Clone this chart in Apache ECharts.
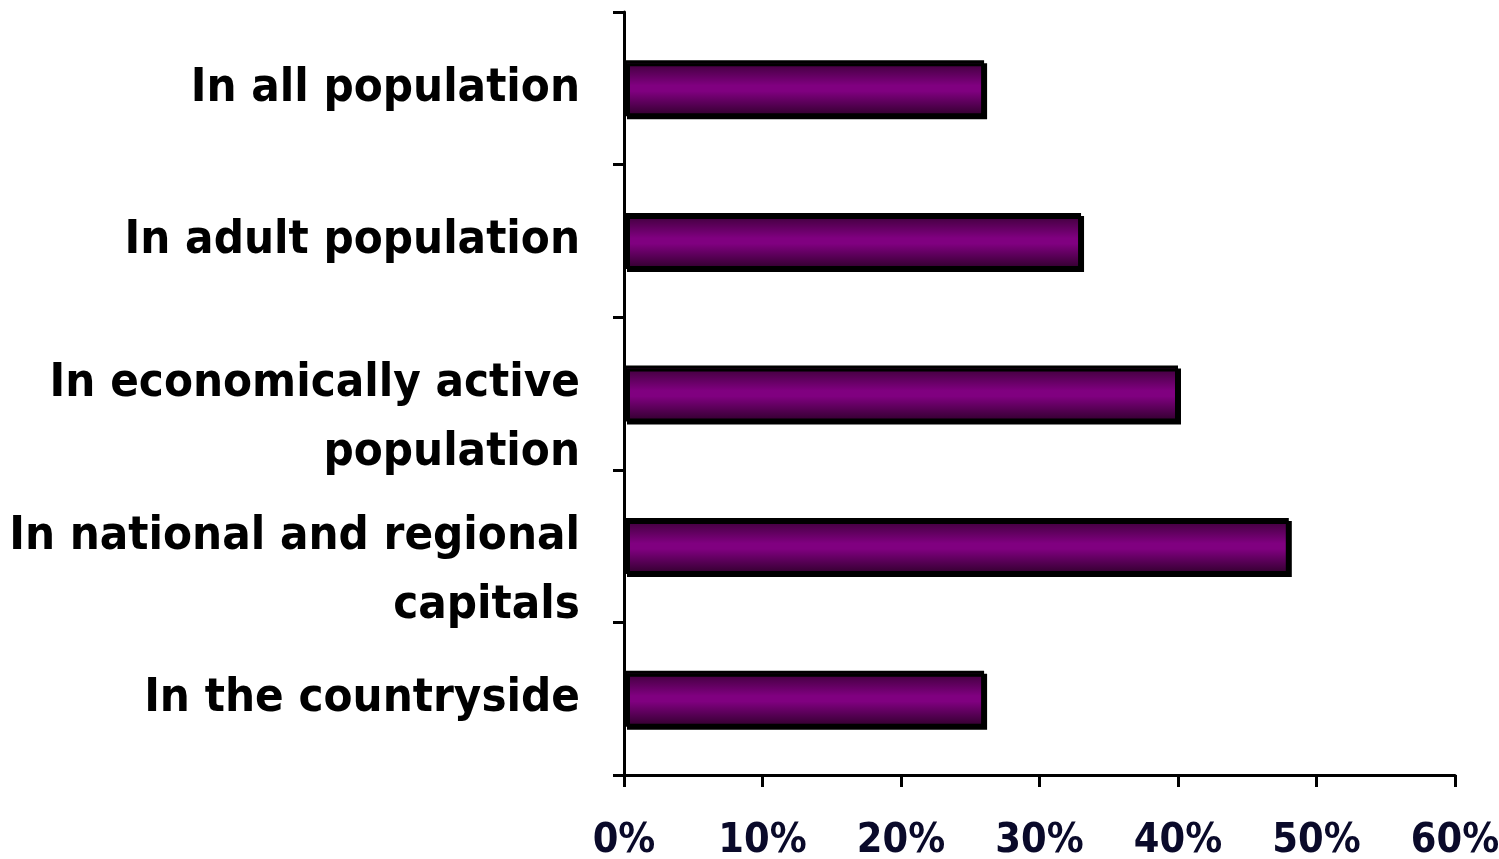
<!DOCTYPE html>
<html>
<head>
<meta charset="utf-8">
<script src="https://cdn.jsdelivr.net/npm/echarts@6/dist/echarts.min.js"></script>
<style>
  html, body { margin: 0; padding: 0; background: #fff; }
  #chart { width: 1499px; height: 859px; }
</style>
</head>
<body>
<div id="chart"></div>
<script>
// categories (top to bottom)
const categories = [
  'In all population',
  'In adult population',
  'In economically active\npopulation',
  'In national and regional\ncapitals',
  'In the countryside'
];
// share, %
const values = [26, 33, 40, 48, 26];
const tickLabels = ['0%', '10%', '20%', '30%', '40%', '50%', '60%'];

const labelFont = '"DejaVu Sans Condensed", "DejaVu Sans", sans-serif';

const chart = echarts.init(document.getElementById('chart'));

chart.setOption({
  animation: false,
  grid: { left: 624, right: 44, top: 12, bottom: 84, outerBoundsMode: 'none', containLabel: false },
  xAxis: {
    type: 'value',
    min: 0,
    max: 60,
    interval: 10,
    splitLine: { show: false },
    axisLine: { show: true, onZero: false, lineStyle: { color: '#000', width: 3 } },
    axisTick: { show: true, length: 12, lineStyle: { color: '#000', width: 3 } },
    axisLabel: {
      margin: 46,
      color: '#0a0a2a',
      fontFamily: labelFont,
      fontWeight: 'bold',
      fontSize: 41,
      formatter: function (v) { return tickLabels[v / 10]; }
    }
  },
  yAxis: {
    type: 'category',
    inverse: true,
    data: categories,
    axisLine: { show: true, lineStyle: { color: '#000', width: 3 } },
    axisTick: { show: true, length: 11, lineStyle: { color: '#000', width: 3 } },
    axisLabel: {
      margin: 44,
      align: 'right',
      formatter: function (v) {
        const lines = v.split('\n');
        if (lines.length === 1) return '{b|' + v + '}';
        // two-line labels sit lower than the bar centre
        return '{s| }\n' + lines.map(function (l) { return '{b|' + l + '}'; }).join('\n');
      },
      rich: {
        b: {
          color: '#000',
          fontFamily: labelFont,
          fontWeight: 'bold',
          fontSize: 47,
          lineHeight: 69,
          align: 'right'
        },
        s: { fontSize: 10, lineHeight: 50, align: 'right' }
      }
    }
  },
  series: [{
    type: 'bar',
    data: values,
    barWidth: 56,
    itemStyle: {
      color: new echarts.graphic.LinearGradient(0, 0, 0, 1, [
        { offset: 0, color: '#380034' },
        { offset: 0.45, color: '#800080' },
        { offset: 0.55, color: '#800080' },
        { offset: 1, color: '#30002c' }
      ]),
      borderColor: '#000',
      borderWidth: 3,
      shadowColor: '#000',
      shadowBlur: 0,
      shadowOffsetX: 3,
      shadowOffsetY: 3
    }
  }]
});
</script>
</body>
</html>
